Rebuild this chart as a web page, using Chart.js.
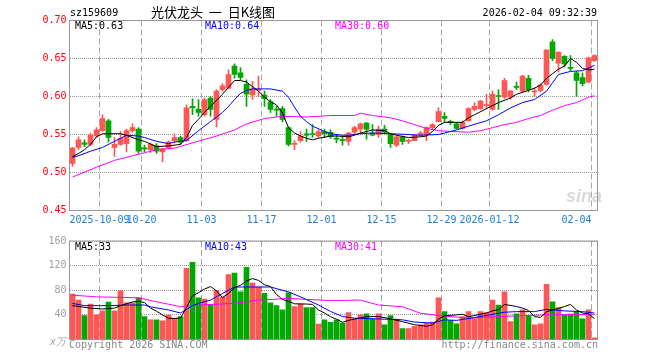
<!DOCTYPE html>
<html><head><meta charset="utf-8">
<script src="https://cdn.jsdelivr.net/npm/chart.js@4.4.1/dist/chart.umd.min.js"></script>
<style>
body{margin:0;background:#fff}
#wrap{position:relative;width:660px;height:360px;overflow:hidden;font:10px 'DejaVu Sans Mono',monospace;color:#000}
#wrap canvas{position:absolute;left:0}
.t{position:absolute;line-height:12px;white-space:pre}
</style></head><body>
<div id="wrap">
<canvas id="kline" width="660" height="232" style="top:0"></canvas>
<canvas id="vol" width="660" height="128" style="top:232px"></canvas>
<div class="t" style="left:70px;top:7px">sz159609</div>
<div class="t" style="left:151px;top:4px;font:13px 'Noto Sans CJK SC';line-height:16px">光伏龙头  一  日K线图</div>
<div class="t" style="right:63px;top:7px">2026-02-04 09:32:39</div>
<div class="t" style="left:75px;top:20px">MA5:0.63</div>
<div class="t" style="left:205px;top:20px;color:#0000ff">MA10:0.64</div>
<div class="t" style="left:335px;top:20px;color:#ff00ff">MA30:0.60</div>
<div class="t" style="left:75px;top:241px">MA5:33</div>
<div class="t" style="left:205px;top:241px;color:#0000ff">MA10:43</div>
<div class="t" style="left:335px;top:241px;color:#ff00ff">MA30:41</div>
<div class="t" style="left:50px;top:336px;color:#aaa;font-style:italic">x万</div>
<div class="t" style="left:69px;top:339px;color:#888">Copyright 2026 SINA.COM</div>
<div class="t" style="right:62px;top:339px;color:#888">http://finance.sina.com.cn</div>
<div class="t" style="left:566px;top:186px;font:italic bold 18px 'Liberation Sans';color:rgba(150,150,150,.35)">sina</div>
</div>
<script>
// trading days shown on the chart
const dates = [
  '2025-09-24','2025-09-25','2025-09-26','2025-09-29','2025-09-30','2025-10-09','2025-10-10','2025-10-13','2025-10-14','2025-10-15',
  '2025-10-16','2025-10-17','2025-10-20','2025-10-21','2025-10-22','2025-10-23','2025-10-24','2025-10-27','2025-10-28','2025-10-29',
  '2025-10-30','2025-10-31','2025-11-03','2025-11-04','2025-11-05','2025-11-06','2025-11-07','2025-11-10','2025-11-11','2025-11-12',
  '2025-11-13','2025-11-14','2025-11-17','2025-11-18','2025-11-19','2025-11-20','2025-11-21','2025-11-24','2025-11-25','2025-11-26',
  '2025-11-27','2025-11-28','2025-12-01','2025-12-02','2025-12-03','2025-12-04','2025-12-05','2025-12-08','2025-12-09','2025-12-10',
  '2025-12-11','2025-12-12','2025-12-15','2025-12-16','2025-12-17','2025-12-18','2025-12-19','2025-12-22','2025-12-23','2025-12-24',
  '2025-12-25','2025-12-26','2025-12-29','2025-12-30','2025-12-31','2026-01-05','2026-01-06','2026-01-07','2026-01-08','2026-01-09',
  '2026-01-12','2026-01-13','2026-01-14','2026-01-15','2026-01-16','2026-01-19','2026-01-20','2026-01-21','2026-01-22','2026-01-23',
  '2026-01-26','2026-01-27','2026-01-28','2026-01-29','2026-01-30','2026-02-02','2026-02-03','2026-02-04'];
const tickDates  = ['2025-10-09','2025-10-20','2025-11-03','2025-11-17','2025-12-01','2025-12-15','2025-12-29','2026-01-12','2026-02-04'];
const tickLabels = ['2025-10-09','10-20','11-03','11-17','12-01','12-15','12-29','2026-01-12','02-04'];

const open = [.512,.533,.539,.537,.548,.555,.568,.533,.537,.538,
  .555,.557,.532,.530,.535,.527,.532,.542,.546,.542,
  .587,.583,.576,.598,.570,.609,.611,.640,.631,.616,
  .602,.608,.602,.593,.583,.584,.559,.537,.542,.551,
  .551,.548,.554,.553,.545,.543,.541,.553,.557,.565,
  .552,.550,.557,.550,.536,.547,.541,.542,.549,.550,
  .559,.567,.574,.567,.564,.558,.568,.583,.584,.588,
  .583,.601,.599,.599,.613,.607,.624,.606,.608,.616,
  .672,.644,.653,.638,.631,.625,.619,.647];
const high = [.533,.547,.543,.552,.559,.576,.570,.546,.554,.557,
  .564,.559,.536,.539,.538,.532,.542,.551,.548,.589,
  .597,.596,.598,.600,.609,.617,.635,.643,.638,.622,
  .620,.627,.607,.596,.587,.587,.560,.542,.554,.557,
  .563,.556,.557,.556,.549,.547,.553,.561,.565,.566,
  .563,.561,.562,.552,.548,.548,.544,.550,.554,.560,
  .564,.585,.579,.569,.566,.568,.585,.592,.595,.603,
  .607,.609,.624,.608,.619,.628,.628,.611,.617,.662,
  .675,.659,.654,.654,.633,.631,.652,.655];
const low = [.508,.530,.534,.535,.546,.554,.540,.521,.536,.527,
  .553,.525,.527,.526,.525,.514,.531,.539,.537,.541,
  .576,.574,.574,.574,.560,.607,.610,.624,.622,.587,
  .596,.600,.587,.579,.574,.567,.535,.530,.540,.541,
  .546,.546,.546,.545,.539,.536,.536,.551,.551,.544,
  .548,.546,.551,.533,.534,.537,.538,.542,.548,.542,
  .557,.567,.566,.563,.557,.557,.568,.581,.583,.584,
  .582,.583,.597,.596,.609,.606,.606,.600,.606,.615,
  .647,.632,.639,.634,.600,.614,.618,.646];
const close = [.532,.543,.537,.549,.556,.571,.546,.537,.545,.555,
  .559,.528,.531,.537,.528,.531,.540,.546,.540,.585,
  .585,.579,.596,.583,.607,.614,.629,.629,.625,.603,
  .610,.609,.597,.583,.582,.570,.537,.538,.548,.549,
  .550,.554,.551,.547,.544,.542,.552,.559,.564,.557,
  .549,.557,.553,.538,.547,.541,.542,.549,.552,.559,
  .563,.580,.571,.566,.558,.566,.584,.587,.594,.589,
  .603,.600,.621,.607,.612,.627,.609,.607,.615,.661,
  .650,.658,.643,.637,.621,.617,.651,.654];
// volume, x万
const volume = [73.6,64,38.9,57.6,40,46.4,60.8,46.4,78.9,59.7,
  59.7,67.7,37.3,32,32,30.4,40,34.7,37.3,115.7,
  125.3,67.7,65.6,56,80,69.3,105.6,107.7,77.3,117.3,
  91.7,85.3,75.2,59.7,54.9,48,75.7,53.3,57.6,51.7,
  51.7,25.1,32,27.7,32,26.7,43.7,33.6,40,41.6,
  33,41.6,24,38.9,33,17.6,17.6,21.3,24,26.7,
  28.3,67.7,45.3,30.9,25.6,37.3,45.3,33.6,45.3,43.7,
  64,56,77.3,29.3,41.6,48,38.4,24,25.6,89.6,
  61.3,51.7,40,41.1,45.3,33.6,48,2.7];

// moving average lines: [day index, value]
const ma5 = [[0,.521],[1,.525],[2,.530],[3,.537],[4,.547],[5,.551],[8,.551],[9,.549],[11,.543],[12,.541],[14,.534],[16,.535],[18,.537],[19,.546],[20,.562],[21,.570],[22,.579],[23,.587],[24,.595],[25,.603],[26,.612],[27,.621],[28,.621],[29,.619],[30,.613],[31,.607],[32,.599],[33,.593],[34,.589],[35,.578],[36,.559],[37,.552],[38,.548],[39,.545],[40,.543],[41,.545],[43,.548],[44,.548],[46,.547],[47,.549],[48,.552],[50,.556],[52,.555],[53,.551],[54,.549],[56,.546],[58,.547],[59,.548],[60,.554],[61,.562],[62,.566],[65,.566],[66,.572],[67,.576],[69,.584],[70,.588],[71,.592],[73,.598],[74,.603],[76,.608],[77,.611],[78,.615],[79,.624],[80,.630],[81,.636],[82,.640],[83,.650],[84,.645],[85,.637],[86,.635],[87,.636]];
const ma10 = [[0,.520],[1,.522],[3,.528],[5,.533],[7,.541],[9,.549],[11,.548],[12,.546],[14,.541],[16,.538],[17,.540],[18,.541],[19,.542],[21,.555],[22,.561],[24,.573],[25,.579],[26,.587],[27,.596],[28,.604],[29,.608],[30,.610],[32,.610],[33,.610],[35,.607],[36,.599],[37,.586],[38,.574],[39,.567],[40,.561],[42,.554],[43,.551],[45,.549],[46,.549],[48,.551],[50,.552],[53,.551],[56,.550],[58,.549],[61,.550],[64,.556],[66,.561],[69,.568],[71,.576],[73,.585],[75,.592],[77,.596],[79,.607],[80,.618],[81,.629],[83,.633],[85,.634],[87,.641]];
const ma30 = [[0,.494],[4,.507],[7,.516],[11,.524],[14,.530],[17,.532],[20,.539],[24,.548],[27,.556],[29,.564],[32,.571],[35,.574],[39,.573],[43,.575],[47,.575],[48,.578],[50,.575],[53,.572],[55,.568],[57,.563],[59,.558],[61,.555],[63,.554],[66,.553],[68,.555],[70,.559],[72,.563],[74,.566],[76,.571],[78,.575],[80,.582],[82,.588],[84,.592],[86,.599],[87,.601]];
const vma5 = [[0,55],[3,51],[5,49.6],[7,51],[8,55],[9,58],[10,61],[11,62],[12,60],[13,51],[14,46],[15,40],[16,34.5],[17,34],[18,35],[19,52],[20,71],[21,76],[22,82],[23,86],[24,79],[25,68],[26,75],[27,84],[28,88],[29,95],[30,99],[31,96],[32,89],[33,86],[34,73],[35,65],[36,62],[37,58],[39,57.6],[40,57],[41,48],[42,43],[43,37],[44,33],[45,28],[46,31],[47,33],[49,37],[51,37.3],[53,33.6],[55,29],[57,24],[59,21.5],[60,23.6],[61,33],[62,38.5],[64,40],[65,41],[66,37],[69,43],[70,46.5],[71,48.5],[72,57],[74,53.6],[75,51],[76,47],[77,37],[78,36],[79,45],[80,48],[81,50.5],[82,53.6],[83,57],[84,48],[85,43],[86,41.6],[87,34]];
const vma10 = [[0,58.7],[2,55],[6,55],[9,56],[12,56],[13,53],[16,48],[18,43],[19,49],[20,55],[21,58.7],[23,64],[25,74.7],[27,85.3],[30,85.3],[33,85.3],[36,77.3],[38,69.3],[41,56],[43,45.6],[45,37.3],[47,34.7],[52,33],[55,32],[57,28.3],[60,26.7],[62,32],[64,31],[67,35.7],[72,44.3],[74,45.3],[77,45.3],[79,49],[82,46.4],[85,45.3],[87,43]];
const vma30 = [[0,72],[4,69.3],[11,67.7],[14,61.3],[18,53.3],[21,56],[27,58.7],[31,64],[36,66.7],[43,63.2],[48,64],[51,56],[55,53.3],[58,42.7],[61,38.9],[66,34.7],[71,37.3],[79,40],[87,41]];

const RED = '#ff5656', GREEN = '#00a800';
const MONO = "'DejaVu Sans Mono', monospace";
const barColor = dates.map((d, i) => close[i] >= open[i] ? RED : GREEN);
const gridIdx = tickDates.map(d => dates.indexOf(d));

// draws the grey box round the plot
const frame = {
  id: 'frame',
  beforeDatasetsDraw(chart) {
    const a = chart.chartArea, g = chart.ctx;
    g.save();
    g.strokeStyle = '#999';
    g.lineWidth = 1;
    g.strokeRect(a.left, a.top, a.right - a.left, a.bottom - a.top);
    g.restore();
  }
};

function maLine(pairs, color) {
  return {
    type: 'line', data: pairs.map(p => ({ x: dates[p[0]], y: p[1] })),
    borderColor: color, borderWidth: 1, pointRadius: 0, tension: 0, order: 0
  };
}

function xAxis(showLabels, h) {
  return {
    type: 'category', offset: true,
    grid: { offset: true, drawTicks: false, color: c => gridIdx.includes(c.index) ? '#aaa' : 'transparent' },
    border: { display: false, dash: [6, 3] },
    ticks: {
      display: showLabels, autoSkip: false, maxRotation: 0, minRotation: 0, padding: 4, labelOffset: -3,
      color: '#1a80dc', font: { family: MONO, size: 10 },
      callback: (v, i) => {
        const k = tickDates.indexOf(dates[i]);
        if (k < 0) return '';
        // last label sits left of its grid line
        return i === dates.length - 1 ? tickLabels[k] + ' '.repeat(tickLabels[k].length) : tickLabels[k];
      }
    },
    afterFit: s => { s.height = h; }
  };
}

new Chart(document.getElementById('kline'), {
  type: 'bar',
  data: {
    labels: dates,
    datasets: [
      maLine(ma5, '#000000'),
      maLine(ma10, '#0000ff'),
      maLine(ma30, '#ff00ff'),
      { data: dates.map((d, i) => [open[i], close[i]]), backgroundColor: barColor, barThickness: 5, minBarLength: 1, grouped: false, order: 1 },
      { data: dates.map((d, i) => [low[i], high[i]]), backgroundColor: barColor, barThickness: 1, grouped: false, order: 2 }
    ]
  },
  options: {
    responsive: false, animation: false,
    layout: { padding: { top: 20.5, right: 62.5, left: 0, bottom: 0 } },
    plugins: { legend: { display: false }, tooltip: { enabled: false } },
    scales: {
      x: xAxis(true, 21.5),
      y: {
        min: 0.45, max: 0.70,
        grid: { drawTicks: false, color: '#999' },
        border: { display: false, dash: [1, 1] },
        ticks: { stepSize: 0.05, padding: 3, color: '#ff0000', font: { family: MONO, size: 10 }, callback: v => v.toFixed(2) },
        afterFit: s => { s.width = 69.5; }
      }
    }
  },
  plugins: [frame]
});

new Chart(document.getElementById('vol'), {
  type: 'bar',
  data: {
    labels: dates,
    datasets: [
      maLine(vma5, '#000000'),
      maLine(vma10, '#0000ff'),
      maLine(vma30, '#ff00ff'),
      { data: volume, backgroundColor: barColor, barThickness: 5, grouped: false, order: 1 }
    ]
  },
  options: {
    responsive: false, animation: false,
    layout: { padding: { top: 7.5, right: 62.5, left: 0, bottom: 20.5 } },
    plugins: { legend: { display: false }, tooltip: { enabled: false } },
    scales: {
      x: xAxis(false, 0),
      y: {
        min: 0, max: 160,
        grid: { drawTicks: false, color: '#999' },
        border: { display: false, dash: [1, 1] },
        ticks: { stepSize: 40, padding: 3, color: '#a0a0a0', font: { family: MONO, size: 10 }, callback: v => v === 0 ? '' : v },
        afterFit: s => { s.width = 69.5; }
      }
    }
  },
  plugins: [frame]
});
</script>
</body></html>
